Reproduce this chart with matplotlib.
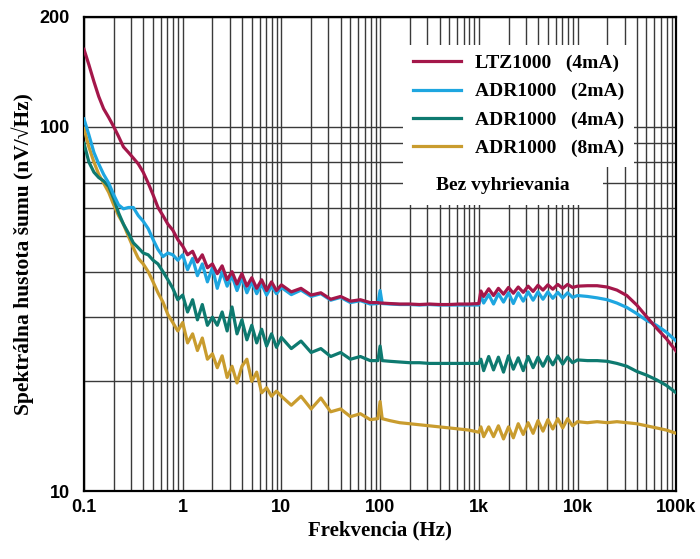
import matplotlib
matplotlib.use("Agg")
import matplotlib.pyplot as plt
from matplotlib.patches import Rectangle

# frekvencie (Hz) - spolocna os pre vsetky krivky
freq = [0.1, 0.112, 0.126, 0.141, 0.158, 0.178, 0.2, 0.224, 0.251, 0.282,
        0.316, 0.355, 0.398, 0.447, 0.501, 0.562, 0.631, 0.708, 0.794, 0.891,
        1.0, 1.12, 1.26, 1.41, 1.58, 1.78, 2.0, 2.24, 2.51, 2.82,
        3.16, 3.55, 3.98, 4.47, 5.01, 5.62, 6.31, 7.08, 7.94, 8.91,
        10, 12.6, 15.8, 20, 25.1, 31.6, 39.8, 50.1, 63.1, 79.4,
        95, 100, 105, 126, 158, 200, 251, 316, 398, 501, 631, 794, 1000,
        1050, 1120, 1260, 1410, 1580, 1780, 2000, 2240, 2510, 2820,
        3160, 3550, 3980, 4470, 5010, 5620, 6310, 7080, 7940, 8910,
        10000, 12600, 15800, 20000, 25100, 31600, 39800, 50100, 63100, 79400, 100000]

# spektralna hustota sumu (nV/sqrt(Hz))
ltz_4ma = [163, 148, 133, 121, 112, 106, 100, 94, 88, 85,
           82, 79, 75, 70, 65, 60, 57, 54, 52, 49,
           47, 44.5, 45.5, 42.5, 44.5, 41, 42, 39.5, 41.5, 38,
           40, 37, 39.5, 36.5, 38.5, 36, 38, 35.5, 37.5, 35.5,
           36.8, 35.2, 36.0, 34.5, 35.0, 33.6, 34.2, 33.2, 33.5, 32.9,
           32.9, 32.8, 32.8, 32.7, 32.6, 32.6, 32.5, 32.6, 32.5, 32.5, 32.6, 32.6, 32.7,
           35.4, 34.2, 35.9, 34.4, 36.0, 34.7, 36.2, 34.9, 36.3, 35.1,
           36.5, 35.3, 36.7, 35.6, 36.8, 35.8, 36.9, 36.0, 36.9, 36.2,
           36.5, 36.6, 36.6, 36.3, 35.6, 34.4, 32.4, 30.1, 28.0, 26.2, 24.2]

adr_2ma = [105, 95, 85, 79, 74, 70, 65, 61, 59.5, 60,
           60, 57, 55, 52.5, 49, 46, 44, 45, 44.5, 43,
           44.5, 40.5, 43.5, 39, 42, 37.5, 41, 36, 40, 36.5,
           39, 35.5, 38.5, 35, 37.5, 34.8, 37, 34.5, 36.5, 34.8,
           36.2, 34.6, 35.6, 34.2, 34.8, 33.4, 34.0, 32.9, 33.3, 32.6,
           32.7, 35.5, 32.7, 32.6, 32.5, 32.5, 32.4, 32.5, 32.4, 32.4, 32.4, 32.4, 32.4,
           34.4, 32.8, 34.6, 32.6, 34.8, 33.0, 35.0, 32.7, 35.0, 33.2,
           35.2, 33.4, 35.2, 33.6, 35.2, 33.8, 35.1, 33.9, 35.0, 34.0,
           34.4, 34.2, 33.9, 33.5, 32.8, 31.9, 30.7, 29.4, 28.5, 27.3, 25.8]

adr_4ma = [90, 80, 75, 72.5, 71, 68.5, 63.5, 58, 54, 51,
           48, 46.5, 45, 44.5, 43, 42, 40, 38, 36, 33.5,
           34.5, 31, 33.5, 29.5, 32.5, 28.5, 30, 28.5, 31, 27.5,
           32, 27, 29.5, 26, 28.5, 25.5, 27.8, 25, 27, 24.8,
           26.4, 24.6, 25.8, 24.0, 24.6, 23.4, 24.0, 23.0, 23.4, 22.8,
           22.8, 25.0, 22.8, 22.7, 22.6, 22.5, 22.5, 22.4, 22.4, 22.4, 22.4, 22.4, 22.4,
           23.0, 21.4, 23.4, 21.5, 23.3, 21.2, 23.5, 21.6, 23.2, 21.4,
           23.4, 21.8, 23.3, 22.0, 23.4, 22.2, 23.5, 22.3, 23.3, 22.5,
           22.9, 22.8, 22.8, 22.7, 22.4, 22.0, 21.3, 20.8, 20.2, 19.5, 18.6]

adr_8ma = [99, 88, 80, 74, 70, 66, 61, 57, 54, 50,
           46.5, 43.5, 42, 40, 37.5, 35, 33, 30.5, 29, 27.5,
           29, 25.5, 27, 24.3, 26.3, 23, 23.8, 21.8, 23.5, 20.5,
           22, 19.8, 22, 23, 20, 21.2, 18.6, 19.2, 18.2, 18.8,
           18.2, 17.2, 18.2, 16.8, 18.0, 16.5, 16.8, 16.0, 16.3, 15.7,
           15.8, 17.6, 15.8, 15.6, 15.4, 15.3, 15.2, 15.1, 15.0, 14.9, 14.8, 14.7, 14.5,
           15.0, 14.1, 15.0, 14.1, 15.1, 13.9, 15.0, 14.0, 15.3, 14.3,
           15.4, 14.4, 15.6, 14.6, 15.7, 14.8, 15.8, 14.9, 15.8, 15.1,
           15.5, 15.4, 15.5, 15.4, 15.5, 15.4, 15.3, 15.1, 14.9, 14.7, 14.4]

names = ["LTZ1000   (4mA)", "ADR1000   (2mA)", "ADR1000   (4mA)", "ADR1000   (8mA)"]
colors = ["#A4174A", "#1EA6E0", "#0E7A70", "#C99C2E"]

x_ticks = [0.1, 1, 10, 100, 1000, 10000, 100000]
x_labels = ["0.1", "1", "10", "100", "1k", "10k", "100k"]
y_ticks = [10, 100, 200]
y_labels = ["10", "100", "200"]

fig = plt.figure(figsize=(7, 5.59), dpi=100)
ax = fig.add_axes([0.12, 0.1216, 0.846, 0.848])

series = [ltz_4ma, adr_2ma, adr_4ma, adr_8ma]
handles = []
for i, (s, c, n) in enumerate(zip(series, colors, names)):
    h, = ax.plot(freq, s, color=c, lw=2.3, label=n, zorder=6 - i)
    handles.append(h)

ax.set_xscale("log")
ax.set_yscale("log")
ax.set_xlim(0.1, 100000)
ax.set_ylim(10, 200)

ax.set_xticks(x_ticks)
ax.set_xticklabels(x_labels)
ax.set_yticks(y_ticks)
ax.set_yticklabels(y_labels)
ax.set_yticks([20, 30, 40, 50, 60, 70, 80, 90], minor=True)
ax.yaxis.set_minor_formatter(plt.NullFormatter())
ax.xaxis.set_minor_formatter(plt.NullFormatter())

ax.grid(which="both", color="#3a3a3a", lw=1.0)
ax.set_axisbelow(True)
ax.tick_params(which="both", length=0)
ax.tick_params(axis="x", pad=6)
ax.tick_params(axis="y", pad=10)
for lab in ax.get_xticklabels() + ax.get_yticklabels():
    lab.set_fontfamily("Liberation Sans")
    lab.set_fontweight("bold")
    lab.set_fontsize(13)
for sp in ax.spines.values():
    sp.set_linewidth(1.6)
    sp.set_color("black")

serif = ["Liberation Serif", "DejaVu Serif"]
ax.set_xlabel("Frekvencia (Hz)", family=serif, fontweight="bold", fontsize=15, labelpad=3)
ax.set_ylabel("Spektrálna hustota šumu (nV/√Hz)", family=serif, fontweight="bold",
              fontsize=15.5, labelpad=4)

leg = ax.legend(handles=handles, loc="upper left", bbox_to_anchor=(0.522, 0.962),
                prop={"family": serif, "weight": "bold", "size": 14},
                frameon=True, fancybox=False, framealpha=1, handlelength=2.5,
                handletextpad=0.7, labelspacing=0.55, borderpad=0.5)
leg.get_frame().set_facecolor("white")
leg.get_frame().set_edgecolor("none")
leg.set_zorder(10)

ax.add_patch(Rectangle((0.539, 0.603), 0.338, 0.085, transform=ax.transAxes,
                       facecolor="white", edgecolor="none", zorder=9))
ax.text(0.708, 0.645, "Bez vyhrievania", transform=ax.transAxes, ha="center", va="center",
        family=serif, fontweight="bold", fontsize=14, zorder=11)

fig.savefig("out.png", dpi=100)
